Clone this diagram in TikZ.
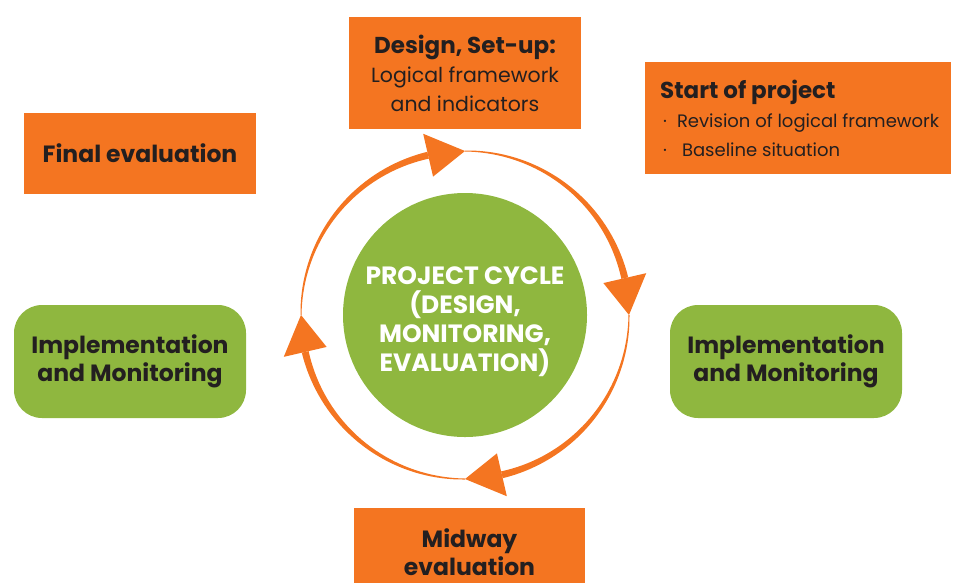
\documentclass[tikz,border=0pt]{standalone}
\usepackage{fontspec}
\setmainfont{Poppins}
\definecolor{cycorange}{HTML}{F47521}
\definecolor{cycgreen}{HTML}{8FB73F}
\definecolor{cyctext}{HTML}{231F20}

\begin{document}
\begin{tikzpicture}[x=1pt, y=-1pt,
    orangebox/.style={rectangle, fill=cycorange, text=cyctext, inner sep=0pt, align=center,
        font=\fontsize{20.5}{29}\selectfont},
    greenbox/.style={rectangle, rounded corners=28pt, fill=cycgreen, text=cyctext, inner sep=0pt,
        align=center, minimum width=232pt, minimum height=113pt,
        font=\fontsize{23.5}{28}\selectfont\bfseries},
    hub/.style={circle, fill=cycgreen, minimum size=244pt, inner sep=0pt},
    hubtext/.style={text=white, align=center, font=\fontsize{25}{29}\selectfont\bfseries}]
    \useasboundingbox (0,0) rectangle (966,582);
    \clip (0,0) rectangle (966,582);

    % boxes
    \node[orangebox, minimum width=232pt, minimum height=112pt] (design) at (465,73)
        {{\bfseries\fontsize{23}{29}\selectfont Design, Set-up:}\\Logical framework\\and indicators};
    \node[orangebox, minimum width=306pt, minimum height=112pt] (start) at (798,118) {};
    \node[text=cyctext, inner sep=0pt, align=left, anchor=west,
        font=\fontsize{18}{29}\selectfont] (starttext) at (660,118)
        {{\bfseries\fontsize{23}{29}\selectfont Start of project}\\
         \hspace*{3pt}·\hspace{10pt}Revision of logical framework\\
         \hspace*{3pt}·\hspace{15pt}Baseline situation};
    \node[orangebox, minimum width=232pt, minimum height=81pt, font=\fontsize{23.5}{28}\selectfont\bfseries] (final) at (140,153.5)
        {Final evaluation};
    \node[orangebox, minimum width=231pt, minimum height=88pt, font=\fontsize{23.5}{28}\selectfont\bfseries] (midway) at (469.5,552)
        {Midway\\evaluation};
    \node[greenbox] (implL) at (130,361.5) {Implementation\\and Monitoring};
    \node[greenbox] (implR) at (786,361.5) {Implementation\\and Monitoring};

    % centre
    \node[hub] (cycle) at (465,315) {};
    \node[hubtext] (cycletext) at (465,322) {PROJECT CYCLE\\(DESIGN,\\MONITORING,\\EVALUATION)};

    % arrows round the centre
    \begin{scope}[shift={(cycle.center)}]
    \foreach \s [evaluate=\s as \e using \s+77, evaluate=\s as \t using \s+90] in {0,90,180,270} {
        \fill[cycorange] plot[domain=\s:\e, samples=40] ({(164.5+3*(\x-\s)/77)*cos(\x)}, {(164.5+3*(\x-\s)/77)*sin(\x)})
            -- plot[domain=\e:\s, samples=40] ({(163.5-3*(\x-\s)/77)*cos(\x)}, {(163.5-3*(\x-\s)/77)*sin(\x)}) -- cycle;
        \fill[cycorange] (\e:186) -- (\t:164) -- (\e:142) -- cycle;
    }
    \end{scope}
\end{tikzpicture}
\end{document}
